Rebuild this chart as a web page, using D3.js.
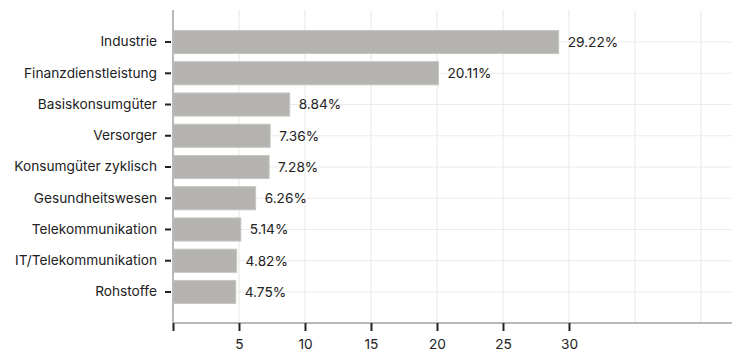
<!DOCTYPE html>
<html>
<head>
<meta charset="utf-8">
<script src="https://cdn.jsdelivr.net/npm/d3@7"></script>
<style>
  html, body { margin: 0; padding: 0; background: #fff; }
  svg { display: block; font-family: Inter, "Noto Sans", sans-serif; }
</style>
</head>
<body>
<svg id="chart" width="732" height="352"></svg>
<script>
// Sector weights in percent
const sectors = [
  "Industrie", "Finanzdienstleistung", "Basiskonsumgüter", "Versorger",
  "Konsumgüter zyklisch", "Gesundheitswesen", "Telekommunikation",
  "IT/Telekommunikation", "Rohstoffe"
];
const weights = [29.22, 20.11, 8.84, 7.36, 7.28, 6.26, 5.14, 4.82, 4.75];
const gridTicks = [0, 5, 10, 15, 20, 25, 30, 35, 40];
const labeledTicks = [5, 10, 15, 20, 25, 30];

const svg = d3.select("#chart");
const plot = { left: 173, right: 732, top: 10, bottom: 323 };
const fontSize = 13.7;

const x = d3.scaleLinear().domain([0, 42.35]).range([plot.left, plot.right]);
const y = d3.scaleBand().domain(sectors).range([26.4, 307.6])
  .paddingInner(0.26).paddingOuter(0.13);

// grid
const grid = svg.append("g");
grid.selectAll("line.v").data(gridTicks.slice(1)).join("line")
  .attr("class", "v")
  .attr("x1", d => x(d)).attr("x2", d => x(d))
  .attr("y1", plot.top).attr("y2", plot.bottom)
  .attr("stroke", "#ebebeb").attr("stroke-width", 1.2);
grid.selectAll("line.h").data(sectors).join("line")
  .attr("class", "h")
  .attr("x1", plot.left).attr("x2", plot.right)
  .attr("y1", d => y(d) + y.bandwidth() / 2).attr("y2", d => y(d) + y.bandwidth() / 2)
  .attr("stroke", "#ebebeb").attr("stroke-width", 1.2);

// bars
svg.append("g").selectAll("rect").data(sectors).join("rect")
  .attr("x", x(0))
  .attr("y", d => y(d))
  .attr("width", (d, i) => x(weights[i]) - x(0))
  .attr("height", y.bandwidth())
  .attr("fill", "#b4b3af")
  .attr("stroke", "#c6c5c1").attr("stroke-width", 1);

// value labels
svg.append("g").selectAll("text").data(sectors).join("text")
  .attr("x", (d, i) => x(weights[i]) + 9)
  .attr("y", d => y(d) + y.bandwidth() / 2)
  .attr("dy", "0.35em")
  .attr("font-size", fontSize).attr("fill", "#222")
  .text((d, i) => weights[i].toFixed(2) + "%");

// y axis
const yAxis = svg.append("g").attr("transform", `translate(${plot.left - 1},0)`)
  .call(d3.axisLeft(y).tickSize(6).tickPadding(9));
yAxis.select(".domain").remove();
yAxis.selectAll(".tick line").attr("stroke", "#222").attr("stroke-width", 2)
  .attr("transform", "translate(-1,0)");
yAxis.selectAll(".tick text").attr("font-size", fontSize).attr("fill", "#222")
  .attr("font-family", "Inter, 'Noto Sans', sans-serif");

svg.append("line").attr("x1", plot.left).attr("x2", plot.left)
  .attr("y1", plot.top).attr("y2", plot.bottom)
  .attr("stroke", "#b8b8b8").attr("stroke-width", 2);

// x axis
svg.append("line").attr("x1", plot.left).attr("x2", plot.right)
  .attr("y1", plot.bottom).attr("y2", plot.bottom)
  .attr("stroke", "#b8b8b8").attr("stroke-width", 2);
const xAxis = svg.append("g").attr("transform", `translate(0,${plot.bottom})`)
  .call(d3.axisBottom(x).tickValues([0].concat(labeledTicks))
    .tickFormat(d => d === 0 ? "" : d).tickSize(8).tickPadding(8));
xAxis.select(".domain").remove();
xAxis.selectAll(".tick line").attr("stroke", "#222").attr("stroke-width", 2);
xAxis.selectAll(".tick text").attr("font-size", fontSize).attr("fill", "#222")
  .attr("font-family", "Inter, 'Noto Sans', sans-serif");
</script>
</body>
</html>
